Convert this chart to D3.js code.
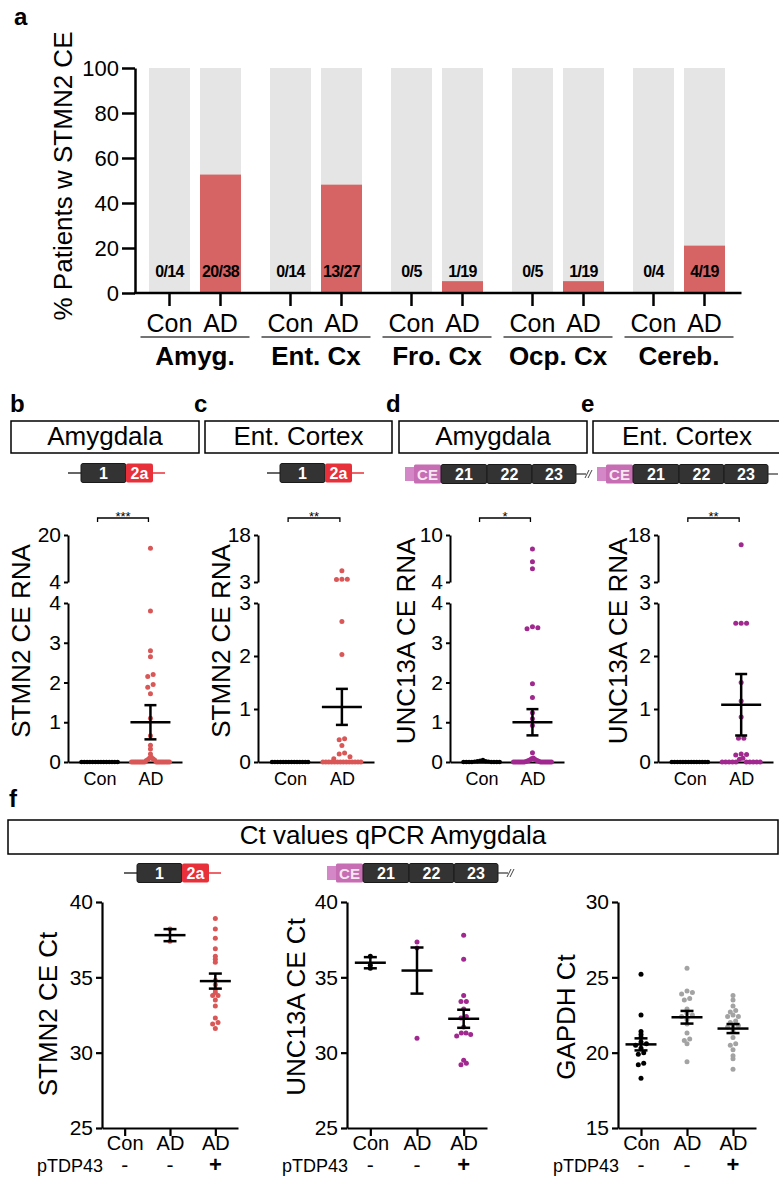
<!DOCTYPE html>
<html>
<head>
<meta charset="utf-8">
<script src="https://cdn.jsdelivr.net/npm/d3@7"></script>
<style>
  body { margin: 0; background: #fff; }
  svg { display: block; }
</style>
</head>
<body>
<svg id="fig" width="779" height="1178"></svg>
<script>
// ---- panel a data
const regions = ["Amyg.", "Ent. Cx", "Fro. Cx", "Ocp. Cx", "Cereb."];
const conditions = ["Con", "AD"];
const conPos = [0, 0, 0, 0, 0];
const conTotal = [14, 14, 5, 5, 4];
const adPos = [20, 13, 1, 1, 4];
const adTotal = [38, 27, 19, 19, 19];
const pctTicks = [0, 20, 40, 60, 80, 100];

// ---- panels b-e data (CE RNA, relative)
const stmn2AmyCon = [0, 0, 0, 0, 0, 0, 0, 0, 0, 0, 0, 0, 0, 0];
const stmn2AmyAD = [15.5, 3.8, 2.8, 2.65, 2.2, 2.15, 1.95, 1.88, 1.72, 1.1, 0.66, 0.42, 0.33, 0.2, 0.12, 0.1, 0.08, 0.06, 0.05, 0.04,
  0, 0, 0, 0, 0, 0, 0, 0, 0, 0, 0, 0, 0, 0, 0, 0, 0, 0];
const stmn2EntCon = [0, 0, 0, 0, 0, 0, 0, 0, 0, 0, 0, 0, 0, 0];
const stmn2EntAD = [6.6, 3.9, 3.85, 3.8, 2.65, 2.03, 0.44, 0.42, 0.31, 0.17, 0.15, 0.1, 0.06,
  0, 0, 0, 0, 0, 0, 0, 0, 0, 0, 0, 0, 0, 0];
const unc13aAmyCon = [0.05, 0.03, 0.02, 0.02, 0.01, 0.01, 0, 0, 0, 0, 0, 0, 0, 0];
const unc13aAmyAD = [8.2, 6.6, 5.7, 3.4, 3.38, 3.35, 1.97, 1.62, 1.24, 1.09, 0.92, 0.23, 0.1, 0.08, 0.06, 0.05, 0.04, 0.03, 0.02, 0.01,
  0, 0, 0, 0, 0, 0, 0, 0, 0, 0, 0, 0, 0, 0];
const unc13aEntCon = [0, 0, 0, 0, 0, 0, 0, 0, 0, 0, 0, 0, 0, 0];
const unc13aEntAD = [14.9, 2.62, 2.62, 2.62, 1.5, 1.15, 0.85, 0.45, 0.45, 0.15, 0.14, 0.13, 0.07, 0.05,
  0, 0, 0, 0, 0, 0, 0, 0, 0, 0];
// mean / sem (Con, AD)
const rnaMeans = { b: [0, 1.0], c: [0, 1.04], d: [0, 1.0], e: [0, 1.08] };
const rnaSems = { b: [0, 0.43], c: [0, 0.34], d: [0, 0.33], e: [0, 0.58] };

// ---- panel f data (Ct values)
const ctGroups = ["Con", "AD", "AD+"];
const ctGroupLabels = ["Con", "AD", "AD"];
const ctSigns = ["-", "-", "+"];
const stmn2Ct = [[], [38.2, 37.4],
  [38.9, 38.2, 37.6, 36.9, 36.4, 36.2, 36.0, 34.8, 34.5, 34.2, 34.0, 33.8, 33.8, 33.5, 33.1, 32.3, 32.0, 31.9, 31.6]];
const unc13aCt = [[36.4, 35.8, 35.6], [37.35, 36.95, 30.95],
  [37.8, 36.2, 33.8, 33.4, 33.4, 32.9, 32.4, 32.3, 31.7, 31.3, 31.3, 31.2, 31.1, 29.5, 29.3, 29.2]];
const gapdhCt = [[25.2, 22.5, 21.4, 21.2, 21.0, 20.7, 20.6, 20.5, 20.3, 20.0, 19.9, 19.3, 19.2, 18.3],
  [25.6, 24.1, 24.0, 23.9, 23.6, 23.5, 22.9, 22.6, 22.5, 22.4, 22.2, 21.9, 21.3, 20.9, 20.8, 20.6, 19.4],
  [23.8, 23.5, 23.1, 22.8, 22.7, 22.5, 22.4, 22.4, 22.1, 22.0, 21.8, 21.8, 21.7, 21.4, 21.0, 20.6, 20.5, 20.2, 19.8, 19.6, 18.9]];
const stmn2CtMeans = [null, 37.8, 34.75], stmn2CtSems = [null, 0.4, 0.5];
const unc13aCtMeans = [35.97, 35.45, 32.25], unc13aCtSems = [0.37, 1.53, 0.6];
const gapdhCtMeans = [20.55, 22.35, 21.6], gapdhCtSems = [0.4, 0.42, 0.3];
const stmn2CtTicks = [25, 30, 35, 40];
const gapdhCtTicks = [15, 20, 25, 30];

const FONT = "'Liberation Sans', Arial, Helvetica, sans-serif";
const RED = "#d95757", BAR_RED = "#d76464", PURPLE = "#a0288f", GREY = "#a3a3a3";
const svg = d3.select("#fig").attr("font-family", FONT);
const fmtInt = d3.format("d");

function styleAxis(g, size, sw) {
  g.attr("font-family", FONT).attr("font-size", size);
  g.selectAll("path.domain").attr("stroke", "#000").attr("stroke-width", sw);
  g.selectAll(".tick line").attr("stroke", "#000").attr("stroke-width", sw);
  g.selectAll(".tick text").attr("fill", "#000");
  return g;
}

function letter(t, x, y) {
  svg.append("text").attr("x", x).attr("y", y).attr("font-size", 24).attr("font-weight", "bold").text(t);
}

function vLabel(t, x, y, size) {
  svg.append("text").attr("transform", `translate(${x},${y}) rotate(-90)`)
    .attr("text-anchor", "middle").attr("font-size", size).text(t);
}

// beeswarm-ish: points that sit on top of each other are spread sideways
function swarm(values, yFn, cx, r, maxW) {
  const pts = values.map(v => ({ v, y: yFn(v) })).sort((a, b) => a.y - b.y);
  const clusters = [];
  pts.forEach(p => {
    const last = clusters[clusters.length - 1];
    if (last && p.y - last[last.length - 1].y < 3) last.push(p);
    else clusters.push([p]);
  });
  clusters.forEach(c => {
    const n = c.length;
    const step = n > 1 ? Math.min(2 * r + 0.6, maxW / (n - 1)) : 0;
    const offs = d3.range(n).map(i => (i - (n - 1) / 2) * step)
      .sort((a, b) => Math.abs(a) - Math.abs(b) || b - a);
    c.slice().sort((a, b) => b.v - a.v).forEach((p, i) => p.x = cx + offs[i]);
  });
  return pts;
}

function errorBar(g, cx, yFn, mean, sem, w, cap) {
  g.append("line").attr("x1", cx - w / 2).attr("x2", cx + w / 2)
    .attr("y1", yFn(mean)).attr("y2", yFn(mean));
  g.append("line").attr("x1", cx).attr("x2", cx).attr("y1", yFn(mean - sem)).attr("y2", yFn(mean + sem));
  [mean - sem, mean + sem].forEach(v => g.append("line")
    .attr("x1", cx - cap / 2).attr("x2", cx + cap / 2).attr("y1", yFn(v)).attr("y2", yFn(v)));
}

// ---------------- panel a ----------------
letter("a", 14, 25);
const yA = d3.scaleLinear().domain([0, 100]).range([293, 68]);
const xRegion = d3.scaleBand().domain(regions).range([134.5, 739.5]);
const xCond = d3.scaleBand().domain(conditions).range([14.5, 106.5]).paddingInner(10 / 51);

const barData = regions.flatMap((r, i) => [
  { region: r, cond: "Con", pos: conPos[i], total: conTotal[i] },
  { region: r, cond: "AD", pos: adPos[i], total: adTotal[i] }
]);
const gA = svg.append("g");
gA.selectAll(".bg").data(barData).enter().append("rect")
  .attr("x", d => xRegion(d.region) + xCond(d.cond))
  .attr("y", yA(100))
  .attr("width", xCond.bandwidth())
  .attr("height", yA(0) - yA(100))
  .attr("fill", "#e5e5e5");
gA.selectAll(".fg").data(barData).enter().append("rect")
  .attr("x", d => xRegion(d.region) + xCond(d.cond))
  .attr("y", d => yA(100 * d.pos / d.total))
  .attr("width", xCond.bandwidth())
  .attr("height", d => yA(0) - yA(100 * d.pos / d.total))
  .attr("fill", BAR_RED);
gA.selectAll(".cnt").data(barData).enter().append("text")
  .attr("x", d => xRegion(d.region) + xCond(d.cond) + xCond.bandwidth() / 2)
  .attr("y", 277)
  .attr("text-anchor", "middle")
  .attr("font-size", 16).attr("font-weight", "bold").attr("letter-spacing", -0.6)
  .text(d => `${d.pos}/${d.total}`);

styleAxis(gA.append("g").attr("transform", "translate(135,0)")
  .call(d3.axisLeft(yA).tickValues(pctTicks).tickSize(13).tickSizeOuter(0).tickPadding(3)), 22, 2.5);

regions.forEach(r => {
  const g = gA.append("g").attr("transform", `translate(${xRegion(r)},${yA(0)})`)
    .call(d3.axisBottom(xCond).tickSize(13).tickPadding(8));
  g.select(".domain").remove();
  styleAxis(g, 25, 2.5);
  gA.append("line")
    .attr("x1", xRegion(r) + 6).attr("x2", xRegion(r) + xRegion.bandwidth() - 6)
    .attr("y1", 337).attr("y2", 337).attr("stroke", "#444").attr("stroke-width", 1.5);
  gA.append("text").attr("x", xRegion(r) + xRegion.bandwidth() / 2).attr("y", 365)
    .attr("text-anchor", "middle").attr("font-size", 26).attr("font-weight", "bold").text(r);
});
gA.append("line").attr("x1", 134).attr("x2", xRegion.range()[1] + 2)
  .attr("y1", yA(0)).attr("y2", yA(0)).attr("stroke", "#000").attr("stroke-width", 2.5);
vLabel("% Patients w STMN2 CE", 72, 176, 26);

// ---------------- gene diagrams ----------------
function stmn2Gene(x0, y) {
  const g = svg.append("g").attr("transform", `translate(${x0},${y})`);
  g.append("line").attr("x1", 0).attr("x2", 14).attr("stroke", "#333").attr("stroke-width", 1.5);
  g.append("line").attr("x1", 84).attr("x2", 97).attr("stroke", "#e8303a").attr("stroke-width", 1.5);
  g.append("rect").attr("x", 13).attr("y", -9.5).attr("width", 45).attr("height", 19).attr("rx", 2)
    .attr("fill", "#333").attr("stroke", "#1a1a1a");
  g.append("rect").attr("x", 58).attr("y", -9.5).attr("width", 27).attr("height", 19).attr("rx", 2)
    .attr("fill", "#e8303a");
  g.append("text").attr("x", 35.5).attr("y", 6).attr("text-anchor", "middle").attr("fill", "#fff")
    .attr("font-size", 16).attr("font-weight", "bold").text("1");
  g.append("text").attr("x", 71.5).attr("y", 6).attr("text-anchor", "middle").attr("fill", "#fff")
    .attr("font-size", 16).attr("font-weight", "bold").text("2a");
}
function unc13aGene(x0, y, slash) {
  const g = svg.append("g").attr("transform", `translate(${x0},${y})`);
  g.append("rect").attr("x", 0).attr("y", -7).attr("width", 10).attr("height", 14).attr("fill", "#d487c6");
  g.append("rect").attr("x", 9).attr("y", -9.5).attr("width", 27).attr("height", 19).attr("rx", 1.5).attr("fill", "#c66db4");
  g.append("text").attr("x", 22.5).attr("y", 5.5).attr("text-anchor", "middle").attr("fill", "#f6e6f2")
    .attr("font-size", 15).attr("font-weight", "bold").text("CE");
  [["21", 36, 46], ["22", 82, 45], ["23", 127, 44]].forEach(([t, x, w]) => {
    g.append("rect").attr("x", x).attr("y", -9.5).attr("width", w).attr("height", 19).attr("rx", 2)
      .attr("fill", "#333").attr("stroke", "#1a1a1a");
    g.append("text").attr("x", x + w / 2).attr("y", 6).attr("text-anchor", "middle").attr("fill", "#fff")
      .attr("font-size", 16).attr("font-weight", "bold").text(t);
  });
  g.append("line").attr("x1", 171).attr("x2", 181).attr("stroke", "#333").attr("stroke-width", 1.2);
  // the "//" break mark, drawn as two short slanted strokes
  if (slash) {
    g.append("path").attr("d", "M180,4L184,-4M183,4L187,-4")
      .attr("stroke", "#444").attr("stroke-width", 1).attr("fill", "none");
  }
}

// ---------------- panels b-e ----------------
const headers = [
  { l: "b", lx: 10, x: 11, w: 188, t: "Amygdala" },
  { l: "c", lx: 194, x: 205, w: 187, t: "Ent. Cortex" },
  { l: "d", lx: 386, x: 399, w: 188, t: "Amygdala" },
  { l: "e", lx: 581, x: 593, w: 195, t: "Ent. Cortex" }
];
headers.forEach(h => {
  letter(h.l, h.lx, 412);
  svg.append("rect").attr("x", h.x).attr("y", 421).attr("width", h.w).attr("height", 32)
    .attr("fill", "none").attr("stroke", "#000").attr("stroke-width", 1.5);
  svg.append("text").attr("x", h.x + (h.l === "e" ? 94 : h.w / 2)).attr("y", 445)
    .attr("text-anchor", "middle").attr("font-size", 26).text(h.t);
});
stmn2Gene(68, 473);
stmn2Gene(267, 473);
unc13aGene(405, 474, true);
unc13aGene(597, 474, false);

function rnaPanel(p) {
  const g = svg.append("g");
  const loMax = p.loTicks[p.loTicks.length - 1];
  const yLo = d3.scaleLinear().domain([0, loMax]).range([762, 603]);
  const yHi = d3.scaleLinear().domain(d3.extent(p.hiTicks)).range([582, 535]);
  const yPos = v => v > loMax ? yHi(v) : yLo(v);
  const x = d3.scalePoint().domain(conditions).range([p.x0, p.x1]).padding(0.62);

  styleAxis(g.append("g").attr("transform", `translate(${p.x0},0)`)
    .call(d3.axisLeft(yLo).tickValues(p.loTicks).tickFormat(fmtInt).tickSize(4).tickSizeOuter(0).tickPadding(3)), 21, 2);
  styleAxis(g.append("g").attr("transform", `translate(${p.x0},0)`)
    .call(d3.axisLeft(yHi).tickValues(p.hiTicks).tickFormat(fmtInt).tickSize(4).tickSizeOuter(0).tickPadding(3)), 21, 2);
  styleAxis(g.append("g").attr("transform", "translate(0,762)")
    .call(d3.axisBottom(x).tickSize(0).tickSizeOuter(0).tickPadding(10)), 18, 2);

  [p.con, p.ad].forEach((vals, i) => {
    const pts = swarm(vals, yPos, x(conditions[i]), 2.4, i === 0 ? 36 : 38);
    g.selectAll(null).data(pts).enter().append("circle")
      .attr("cx", d => d.x).attr("cy", d => d.y).attr("r", i === 0 ? 2.2 : 2.5)
      .attr("fill", i === 0 ? "#000" : p.color);
  });
  const eb = g.append("g").attr("stroke", "#000").attr("stroke-width", 2.5);
  conditions.forEach((c, i) => errorBar(eb, x(c), yPos, p.means[i], p.sems[i], 40, 12));

  // significance bracket
  const bx0 = x("Con") - 2, bx1 = x("AD") - 2;
  g.append("path").attr("d", `M${bx0},522V518H${bx1}V522`)
    .attr("fill", "none").attr("stroke", "#000").attr("stroke-width", 1.3);
  g.append("text").attr("x", (bx0 + bx1) / 2).attr("y", 521).attr("text-anchor", "middle")
    .attr("font-size", 13).text(p.sig);

  vLabel(p.label, p.lx, 641, 26);
}

rnaPanel({ x0: 68, x1: 182, con: stmn2AmyCon, ad: stmn2AmyAD, means: rnaMeans.b, sems: rnaSems.b,
  loTicks: [0, 1, 2, 3, 4], hiTicks: [4, 20], color: RED, sig: "***", label: "STMN2 CE RNA", lx: 30 });
rnaPanel({ x0: 258, x1: 374, con: stmn2EntCon, ad: stmn2EntAD, means: rnaMeans.c, sems: rnaSems.c,
  loTicks: [0, 1, 2, 3], hiTicks: [3, 18], color: RED, sig: "**", label: "STMN2 CE RNA", lx: 230 });
rnaPanel({ x0: 450, x1: 564, con: unc13aAmyCon, ad: unc13aAmyAD, means: rnaMeans.d, sems: rnaSems.d,
  loTicks: [0, 1, 2, 3, 4], hiTicks: [4, 10], color: PURPLE, sig: "*", label: "UNC13A CE RNA", lx: 415 });
rnaPanel({ x0: 658, x1: 773, con: unc13aEntCon, ad: unc13aEntAD, means: rnaMeans.e, sems: rnaSems.e,
  loTicks: [0, 1, 2, 3], hiTicks: [3, 18], color: PURPLE, sig: "**", label: "UNC13A CE RNA", lx: 627 });

// ---------------- panel f ----------------
letter("f", 9, 807);
svg.append("rect").attr("x", 8).attr("y", 820).attr("width", 770).attr("height", 34)
  .attr("fill", "none").attr("stroke", "#000").attr("stroke-width", 1.5);
svg.append("text").attr("x", 393).attr("y", 844).attr("text-anchor", "middle").attr("font-size", 26)
  .text("Ct values qPCR Amygdala");
stmn2Gene(124, 873);
unc13aGene(327, 873, true);

function ctPanel(p) {
  const g = svg.append("g");
  const y = d3.scaleLinear().domain(d3.extent(p.ticks)).range([p.yb, p.yb - 226]);
  const x = d3.scalePoint().domain(ctGroups).range([p.x0, p.x1]).padding(0.5);
  styleAxis(g.append("g").attr("transform", `translate(${p.x0},0)`)
    .call(d3.axisLeft(y).tickValues(p.ticks).tickFormat(fmtInt).tickSize(6).tickSizeOuter(0).tickPadding(3)), 21, 2.2);
  styleAxis(g.append("g").attr("transform", `translate(0,${p.yb})`)
    .call(d3.axisBottom(x).tickSize(8).tickSizeOuter(0).tickPadding(0)
      .tickFormat((d, i) => ctGroupLabels[i])), 20, 2.2);

  p.data.forEach((vals, i) => {
    const pts = swarm(vals, y, x(ctGroups[i]), 2.4, 14);
    g.selectAll(null).data(pts).enter().append("circle")
      .attr("cx", d => d.x).attr("cy", d => d.y).attr("r", 2.5)
      .attr("fill", p.colors[i]);
  });
  const eb = g.append("g").attr("stroke", "#000").attr("stroke-width", 2.5);
  ctGroups.forEach((c, i) => {
    if (p.means[i] != null) errorBar(eb, x(c), y, p.means[i], p.sems[i], 31, 13);
  });

  g.append("text").attr("x", p.x0 + 1).attr("y", 1172).attr("text-anchor", "end")
    .attr("font-size", 18).text("pTDP43");
  ctGroups.forEach((c, i) => g.append("text").attr("x", x(c)).attr("y", 1172)
    .attr("text-anchor", "middle").attr("font-size", ctSigns[i] === "+" ? 22 : 21)
    .attr("font-weight", ctSigns[i] === "+" ? "bold" : "normal")
    .text(ctSigns[i]));
  vLabel(p.label, p.lx, p.ly, 26);
}

ctPanel({ x0: 102, x1: 238, yb: 1128, ticks: stmn2CtTicks, data: stmn2Ct, means: stmn2CtMeans, sems: stmn2CtSems,
  colors: [RED, RED, RED], label: "STMN2 CE Ct", lx: 57, ly: 1014 });
ctPanel({ x0: 347, x1: 487, yb: 1128, ticks: stmn2CtTicks, data: unc13aCt, means: unc13aCtMeans, sems: unc13aCtSems,
  colors: ["#000", PURPLE, PURPLE], label: "UNC13A CE Ct", lx: 305, ly: 1007 });
ctPanel({ x0: 618, x1: 756, yb: 1128, ticks: gapdhCtTicks, data: gapdhCt, means: gapdhCtMeans, sems: gapdhCtSems,
  colors: ["#000", GREY, GREY], label: "GAPDH Ct", lx: 575, ly: 1017 });
</script>
</body>
</html>
